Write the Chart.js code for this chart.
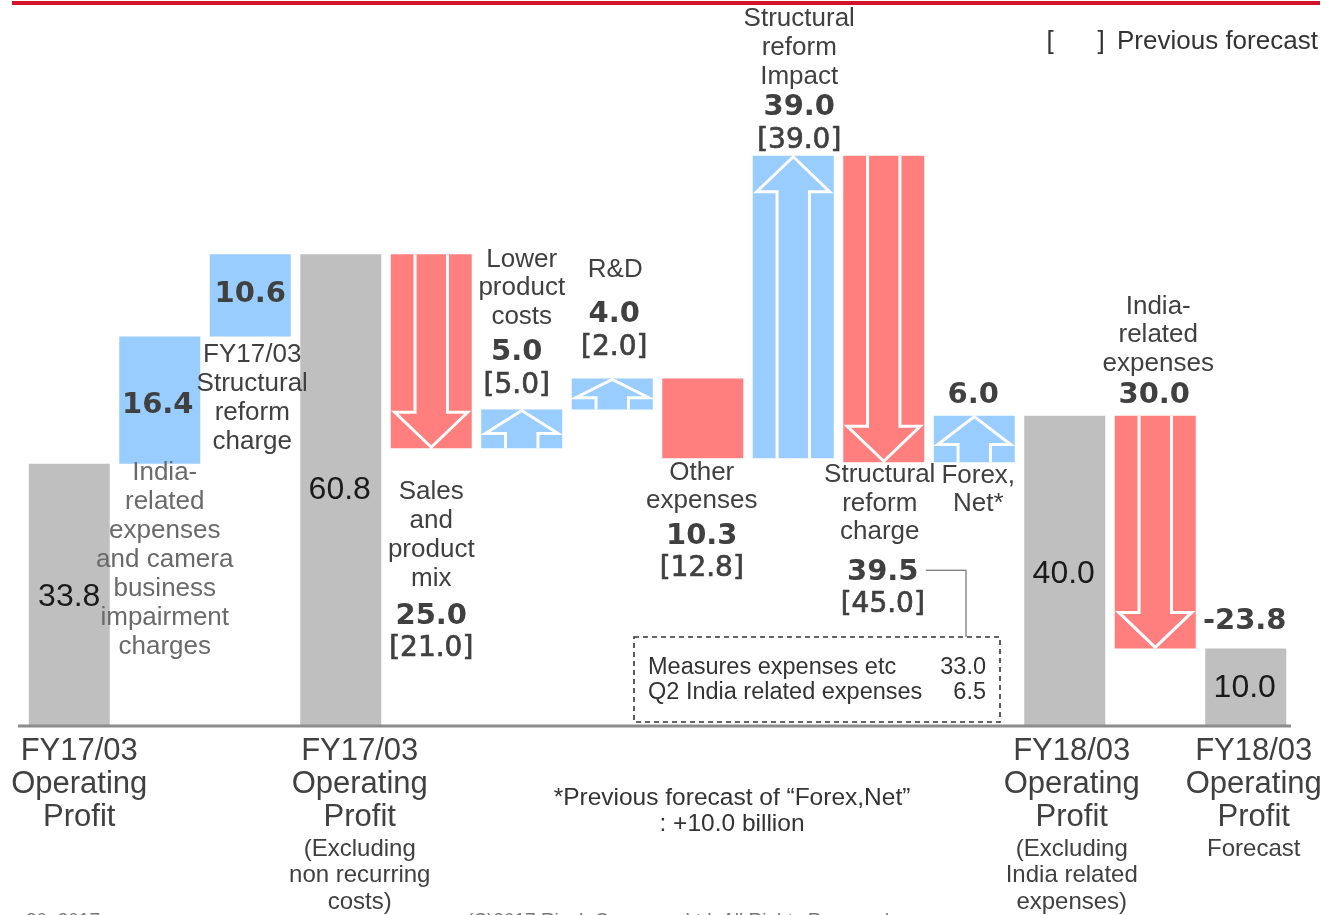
<!DOCTYPE html>
<html>
<head>
<meta charset="utf-8">
<script src="https://cdn.jsdelivr.net/npm/chart.js@4"></script>
<style>
  body { margin: 0; background: #fff; }
  #wrap { position: relative; width: 1335px; height: 915px; overflow: hidden; }
  #topline { position: absolute; left: 12px; top: 1px; width: 1308px; height: 4px; background: #d3132b; }
</style>
</head>
<body>
<div id="wrap">
  <div id="topline"></div>
  <canvas id="bridge"></canvas>
</div>
<script>
// Operating profit bridge, FY17/03 -> FY18/03 forecast (billion yen)
const categories = [
  ["FY17/03", "Operating", "Profit"],
  ["India-", "related", "expenses", "and camera", "business", "impairment", "charges"],
  ["FY17/03", "Structural", "reform", "charge"],
  ["FY17/03", "Operating", "Profit"],
  ["Sales", "and", "product", "mix"],
  ["Lower", "product", "costs"],
  ["R&D"],
  ["Other", "expenses"],
  ["Structural", "reform", "Impact"],
  ["Structural", "reform", "charge"],
  ["Forex,", "Net*"],
  ["FY18/03", "Operating", "Profit"],
  ["India-", "related", "expenses"],
  ["FY18/03", "Operating", "Profit"]
];
const subLabels = [null, null, null, ["(Excluding", "non recurring", "costs)"], null, null, null, null, null, null, null,
  ["(Excluding", "India related", "expenses)"], null, ["Forecast"]];
const amounts = [33.8, 16.4, 10.6, 60.8, -25.0, 5.0, 4.0, -10.3, 39.0, -39.5, 6.0, 40.0, -30.0, 10.0];
const isTotal = [true, false, false, true, false, false, false, false, false, false, false, true, false, true];
const prevForecast = [null, null, null, null, 21.0, 5.0, 2.0, 12.8, 39.0, 45.0, null, null, null, null];
const hasArrow = [false, false, false, false, true, true, true, false, true, true, true, false, true, false];
const breakdownLabels = ["Measures expenses etc", "Q2 India related expenses"];
const breakdownValues = [33.0, 6.5];
const forexNote = ["*Previous forecast of \u201cForex,Net\u201d", ": +10.0 billion"];

const GRAY = "#bfbfbf", BLUE = "#99ccff", RED = "#ff7f7f";

// floating ranges for the waterfall
let running = 0;
const ranges = amounts.map((a, i) => {
  if (isTotal[i]) { running = a; return [0, a]; }
  const r = [running, running + a];
  running += a;
  return r;
});
const colors = amounts.map((a, i) => isTotal[i] ? GRAY : (a >= 0 ? BLUE : RED));

function fmt(v) { return v.toFixed(1); }

function txt(ctx, s, x, y, font, color, align) {
  ctx.font = font;
  ctx.fillStyle = color;
  ctx.textAlign = align || "center";
  ctx.textBaseline = "middle";
  ctx.fillText(s, x, y);
}

function lines(ctx, arr, x, y, lh, font, color) {
  arr.forEach((s, k) => txt(ctx, s, x, y + k * lh, font, color));
  return y + (arr.length - 1) * lh;
}

const NAME = "26px 'Liberation Sans', Arial, sans-serif";
const VAL = "bold 29px 'DejaVu Sans', Verdana, sans-serif";
const PREV = "28px 'DejaVu Sans', Verdana, sans-serif";
const INSIDE = "32px 'Liberation Sans', Arial, sans-serif";
const AXIS = "31px 'Liberation Sans', Arial, sans-serif";
const SUB = "24px 'Liberation Sans', Arial, sans-serif";
const TXT = "#404040";

function prevText(ctx, v, x, y) {
  const s = "[" + fmt(v) + "]";
  ctx.font = PREV;
  ctx.lineWidth = 0.7;
  ctx.strokeStyle = TXT;
  ctx.textAlign = "center";
  ctx.textBaseline = "middle";
  ctx.strokeText(s, x, y);
  txt(ctx, s, x, y, PREV, TXT);
}

const bridgePlugin = {
  id: "bridge",
  afterDatasetsDraw(chart) {
    const ctx = chart.ctx;
    const bars = chart.getDatasetMeta(0).data;
    const area = chart.chartArea;
    const geo = bars.map(b => ({
      cx: b.x, w: b.width,
      top: Math.min(b.y, b.base), bottom: Math.max(b.y, b.base)
    }));

    // white arrow outlines on the change bars
    ctx.save();
    ctx.strokeStyle = "#fff";
    ctx.lineWidth = 3;
    ctx.lineJoin = "miter";
    geo.forEach((g, i) => {
      if (!hasArrow[i]) return;
      const h = g.bottom - g.top;
      const headW = g.w * 0.9, shaftW = g.w * 0.4;
      const headH = Math.min(36, h * 0.62);
      ctx.beginPath();
      if (amounts[i] > 0) {
        const hb = g.top + headH;
        ctx.moveTo(g.cx - shaftW / 2, g.bottom);
        ctx.lineTo(g.cx - shaftW / 2, hb);
        ctx.lineTo(g.cx - headW / 2, hb);
        ctx.lineTo(g.cx, g.top + 1);
        ctx.lineTo(g.cx + headW / 2, hb);
        ctx.lineTo(g.cx + shaftW / 2, hb);
        ctx.lineTo(g.cx + shaftW / 2, g.bottom);
      } else {
        const hb = g.bottom - headH;
        ctx.moveTo(g.cx - shaftW / 2, g.top);
        ctx.lineTo(g.cx - shaftW / 2, hb);
        ctx.lineTo(g.cx - headW / 2, hb);
        ctx.lineTo(g.cx, g.bottom - 1);
        ctx.lineTo(g.cx + headW / 2, hb);
        ctx.lineTo(g.cx + shaftW / 2, hb);
        ctx.lineTo(g.cx + shaftW / 2, g.top);
      }
      ctx.stroke();
    });
    ctx.restore();

    // base line
    ctx.save();
    ctx.strokeStyle = "#8c8c8c";
    ctx.lineWidth = 3;
    ctx.beginPath();
    ctx.moveTo(area.left - 6, area.bottom);
    ctx.lineTo(area.right, area.bottom);
    ctx.stroke();
    ctx.restore();

    const mid = g => (g.top + g.bottom) / 2;
    const LH = 29;
    let y;

    // totals inside gray bars
    txt(ctx, fmt(amounts[0]), geo[0].cx, mid(geo[0]) + 2, INSIDE, "#1a1a1a");
    txt(ctx, fmt(amounts[3]), geo[3].cx - 1, geo[3].top + 236, INSIDE, "#1a1a1a");
    txt(ctx, fmt(amounts[11]), geo[11].cx - 1, mid(geo[11]) + 3, INSIDE, "#1a1a1a");
    txt(ctx, fmt(amounts[13]), geo[13].cx - 1, mid(geo[13]) + 1, INSIDE, "#1a1a1a");

    // India-related / camera impairment
    txt(ctx, fmt(amounts[1]), geo[1].cx - 2, mid(geo[1]) + 5, VAL, TXT);
    lines(ctx, categories[1], geo[1].cx + 5, geo[1].bottom + 9, LH, NAME, "#6a6a6a");

    // FY17/03 structural reform charge
    txt(ctx, fmt(amounts[2]), geo[2].cx, mid(geo[2]) - 1, VAL, TXT);
    lines(ctx, categories[2], geo[2].cx + 2, geo[2].bottom + 18, LH, NAME, TXT);

    // Sales and product mix
    y = lines(ctx, categories[4], geo[4].cx, geo[4].bottom + 44, LH, NAME, TXT);
    txt(ctx, fmt(-amounts[4]), geo[4].cx, y + 37, VAL, TXT);
    prevText(ctx, prevForecast[4], geo[4].cx, y + 69);

    // Lower product costs
    prevText(ctx, prevForecast[5], geo[5].cx - 5, geo[5].top - 24);
    txt(ctx, fmt(amounts[5]), geo[5].cx - 5, geo[5].top - 57, VAL, TXT);
    lines(ctx, categories[5], geo[5].cx, geo[5].top - 150, 28.5, NAME, TXT);

    // R&D
    prevText(ctx, prevForecast[6], geo[6].cx + 2, geo[6].top - 31);
    txt(ctx, fmt(amounts[6]), geo[6].cx + 2, geo[6].top - 64, VAL, TXT);
    lines(ctx, categories[6], geo[6].cx + 3, geo[6].top - 109, LH, NAME, TXT);

    // Other expenses
    y = lines(ctx, categories[7], geo[7].cx - 1, geo[7].bottom + 14, 28, NAME, TXT);
    txt(ctx, fmt(-amounts[7]), geo[7].cx - 1, y + 36, VAL, TXT);
    prevText(ctx, prevForecast[7], geo[7].cx - 1, y + 68);

    // Structural reform impact
    prevText(ctx, prevForecast[8], geo[8].cx + 6, geo[8].top - 15);
    txt(ctx, fmt(amounts[8]), geo[8].cx + 6, geo[8].top - 48, VAL, TXT);
    lines(ctx, categories[8], geo[8].cx + 6, geo[8].top - 137, LH, NAME, TXT);

    // Structural reform charge + breakdown box
    lines(ctx, categories[9], geo[9].cx - 4, geo[9].bottom + 13, 28.5, NAME, TXT);
    const vy = geo[9].bottom + 110;
    txt(ctx, fmt(-amounts[9]), geo[9].cx - 1, vy, VAL, TXT);
    prevText(ctx, prevForecast[9], geo[9].cx - 1, vy + 32);

    const box = { l: 634, t: 637, r: 1000, b: 722 };
    ctx.save();
    ctx.strokeStyle = "#555";
    ctx.lineWidth = 1;
    ctx.beginPath();
    ctx.moveTo(geo[9].cx + 42, vy - 2);
    ctx.lineTo(box.l + 332, vy - 2);
    ctx.lineTo(box.l + 332, box.t);
    ctx.stroke();
    ctx.strokeStyle = "#333";
    ctx.lineWidth = 1.6;
    ctx.setLineDash([5, 4]);
    ctx.strokeRect(box.l, box.t, box.r - box.l, box.b - box.t);
    ctx.restore();
    const BOXF = "23.5px 'Liberation Sans', Arial, sans-serif";
    breakdownLabels.forEach((s, k) => {
      txt(ctx, s, box.l + 14, box.t + 31 + k * 25, BOXF, "#333", "left");
      txt(ctx, fmt(breakdownValues[k]), box.r - 14, box.t + 31 + k * 25, BOXF, "#333", "right");
    });

    // Forex
    txt(ctx, fmt(amounts[10]), geo[10].cx - 1, geo[10].top - 20, VAL, TXT);
    lines(ctx, categories[10], geo[10].cx + 4, geo[10].bottom + 14, 28, NAME, TXT);

    // India-related expenses (FY18)
    txt(ctx, fmt(-amounts[12]), geo[12].cx - 1, geo[12].top - 20, VAL, TXT);
    lines(ctx, categories[12], geo[12].cx + 3, geo[12].top - 109, 28.5, NAME, TXT);
    txt(ctx, fmt(amounts[13] - amounts[0]), geo[13].cx - 1, geo[12].bottom - 27, VAL, TXT);

    // category labels under the total bars
    const offs = { 0: 10, 3: 19, 11: 7, 13: 8 };
    Object.keys(offs).forEach(k => {
      const i = +k, x = geo[i].cx + offs[k];
      let yy = lines(ctx, categories[i], x, area.bottom + 25, 33, AXIS, TXT);
      if (subLabels[i]) lines(ctx, subLabels[i], x, yy + 32, 26.5, SUB, TXT);
    });

    // forex footnote
    lines(ctx, forexNote, 732, 798, 26, "24.5px 'Liberation Sans', Arial, sans-serif", "#333");

    // legend for bracketed values
    txt(ctx, "[", 1050, 42, "26px 'Liberation Sans', Arial, sans-serif", "#333");
    txt(ctx, "]", 1101, 42, "26px 'Liberation Sans', Arial, sans-serif", "#333");
    txt(ctx, "Previous forecast", 1117, 42, "26px 'Liberation Sans', Arial, sans-serif", "#333", "left");

    // page footer (cut by the page edge)
    txt(ctx, "October 30, 2017", 100, 921, "19px 'Liberation Sans', Arial, sans-serif", "#777", "right");
    txt(ctx, "(C)2017 Ricoh Company, Ltd. All Rights Reserved", 678, 921, "19px 'Liberation Sans', Arial, sans-serif", "#777");
  }
};

new Chart(document.getElementById("bridge").getContext("2d"), {
  type: "bar",
  data: {
    labels: categories,
    datasets: [{
      data: ranges,
      backgroundColor: colors,
      borderWidth: 0,
      barPercentage: 0.895,
      categoryPercentage: 1
    }]
  },
  options: {
    responsive: true,
    maintainAspectRatio: false,
    animation: false,
    layout: { padding: { left: 24, right: 44, top: 20, bottom: 189 } },
    scales: {
      x: { display: false },
      y: { display: false, min: 0, max: 91 }
    },
    plugins: { legend: { display: false }, tooltip: { enabled: false } }
  },
  plugins: [bridgePlugin]
});
</script>
</body>
</html>
